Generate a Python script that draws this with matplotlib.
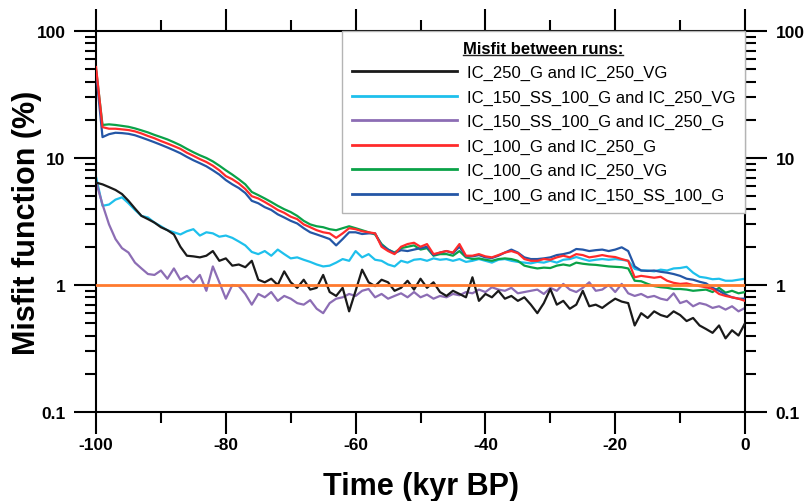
import numpy as np
import matplotlib
matplotlib.use("Agg")
import matplotlib.pyplot as plt
from matplotlib.ticker import FixedLocator, NullFormatter, FuncFormatter
from matplotlib.lines import Line2D

plt.rcParams['font.family'] = ['Liberation Sans', 'DejaVu Sans']
plt.rcParams['axes.unicode_minus'] = False

# time axis, one value per kyr from -100 to 0
time_kyr = np.arange(-100, 1)

misfit_250G_250VG = [
    6.4, 6.2, 5.9, 5.6, 5.2, 4.6, 4.0, 3.5, 3.3, 3.1,
    2.85, 2.7, 2.5, 2.0, 1.7, 1.68, 1.65, 1.7, 1.85, 1.55,
    1.62, 1.42, 1.45, 1.38, 1.55, 1.1, 1.05, 1.12, 1.0, 1.28,
    1.05, 0.95, 1.1, 0.92, 0.95, 1.2, 0.88, 0.82, 0.95, 0.62,
    0.9, 1.32, 1.05, 0.98, 1.1, 1.05, 0.9, 0.95, 1.08, 0.92,
    1.12, 0.95, 1.05, 0.88, 0.82, 0.9, 0.85, 0.8, 1.15, 0.75,
    0.85, 0.8, 0.9, 0.78, 0.82, 0.75, 0.8, 0.7, 0.6, 0.72,
    0.93, 0.7, 0.75, 0.65, 0.7, 0.9, 0.68, 0.7, 0.66, 0.72,
    0.78, 0.74, 0.72, 0.48, 0.6, 0.55, 0.62, 0.58, 0.56, 0.62,
    0.58, 0.52, 0.55, 0.48, 0.45, 0.42, 0.48, 0.38, 0.44, 0.4,
    0.5]

misfit_150SS_250VG = [
    7.1, 4.2, 4.3, 4.7, 4.9, 4.4, 3.9, 3.5, 3.4, 3.1,
    2.9, 2.7, 2.6, 2.5, 2.65, 2.75, 2.45, 2.6, 2.55, 2.4,
    2.45, 2.35, 2.2, 2.05, 1.82, 1.75, 1.85, 1.7, 1.9, 1.75,
    1.62, 1.65, 1.58, 1.52, 1.45, 1.4, 1.42, 1.5, 1.6, 1.55,
    1.85, 1.65, 1.75, 1.58, 1.55, 1.45, 1.4, 1.55, 1.5, 1.58,
    1.6, 1.55, 1.62, 1.58, 1.6, 1.55, 1.6, 1.52, 1.55, 1.6,
    1.55, 1.5, 1.58, 1.6, 1.55, 1.52, 1.5, 1.48, 1.52, 1.5,
    1.55, 1.5, 1.58, 1.6, 1.66, 1.6, 1.55, 1.58, 1.6, 1.58,
    1.6, 1.58, 1.55, 1.34, 1.3, 1.3, 1.28, 1.32, 1.3, 1.35,
    1.36, 1.39, 1.25, 1.16, 1.14, 1.11, 1.12, 1.08, 1.08, 1.1,
    1.12]

misfit_150SS_250G = [
    6.5, 4.3, 3.0, 2.3, 1.95, 1.8, 1.5, 1.35, 1.22, 1.2,
    1.3, 1.12, 1.35, 1.1, 1.18, 1.05, 1.2, 0.9, 1.4, 1.05,
    0.78, 1.0, 0.98, 0.85, 0.7, 0.85, 0.8, 0.88, 0.75, 0.82,
    0.78, 0.72, 0.7, 0.76, 0.65, 0.6, 0.72, 0.78, 0.8, 0.85,
    0.82, 0.9, 0.93, 0.8, 0.85, 0.78, 0.82, 0.86, 0.8, 0.88,
    0.8, 0.84, 0.78, 0.82, 0.8, 0.85, 0.83, 0.88, 0.86, 0.92,
    0.88, 0.96, 0.92, 0.9, 0.95, 0.86, 0.88, 0.9, 0.92, 0.85,
    0.95, 0.9, 1.02, 0.92, 0.88, 0.95, 1.05, 0.9, 0.92, 1.0,
    0.88, 1.02, 0.86, 0.82, 0.85, 0.8, 0.82, 0.78, 0.76, 0.86,
    0.72, 0.75, 0.68, 0.72, 0.7, 0.66, 0.68, 0.64, 0.68, 0.62,
    0.66]

misfit_100G_250G = [
    52, 17.5, 17.0, 17.0, 16.8, 16.6, 16.2, 15.6, 14.9, 14.3,
    13.6, 13.0, 12.4, 11.8, 11.0, 10.4, 9.8, 9.3, 8.7, 8.0,
    7.2, 6.8, 6.3, 5.7, 5.0, 4.8, 4.5, 4.2, 3.9, 3.7,
    3.45, 3.3, 3.0, 2.85, 2.7, 2.6, 2.55, 2.35, 2.55, 2.8,
    2.75, 2.65, 2.6, 2.55, 2.0, 1.85, 1.75, 2.0, 2.1, 2.15,
    2.0, 2.1, 1.75, 1.8, 1.85, 1.8, 2.1, 1.7, 1.7, 1.75,
    1.68, 1.65, 1.72, 1.8, 1.85, 1.78, 1.6, 1.55, 1.55, 1.6,
    1.58, 1.65, 1.7, 1.65, 1.75, 1.72, 1.65, 1.68, 1.72, 1.68,
    1.66, 1.6, 1.55, 1.15, 1.18, 1.16, 1.14, 1.16, 1.08, 1.04,
    1.02, 1.03, 1.0, 0.98, 0.96, 0.93, 0.85, 0.82, 0.8, 0.78,
    0.75]

misfit_100G_250VG = [
    50, 18.2, 18.4, 18.2, 17.9, 17.6, 17.1, 16.5, 15.9, 15.2,
    14.6, 14.0, 13.3, 12.6, 11.8, 11.1, 10.5, 10.0, 9.4, 8.7,
    8.0, 7.4, 6.8, 6.2, 5.4, 5.1, 4.8, 4.5, 4.2, 3.95,
    3.75, 3.5, 3.2, 3.0, 2.9, 2.85, 2.75, 2.7, 2.8, 2.9,
    2.8, 2.7, 2.6, 2.5, 2.1, 1.9, 1.8, 1.95, 2.0, 2.05,
    1.9, 1.95, 1.7, 1.75, 1.75, 1.7, 1.85, 1.65, 1.6, 1.62,
    1.58, 1.55, 1.6, 1.62, 1.6, 1.55, 1.42, 1.38, 1.35, 1.37,
    1.36, 1.42, 1.45, 1.42, 1.5, 1.47, 1.45, 1.44, 1.42, 1.4,
    1.39, 1.38, 1.35, 1.08, 1.07, 1.02, 0.98, 0.96, 0.95, 0.93,
    0.93, 0.92, 0.9, 0.91, 0.92, 0.88, 0.95, 0.87, 0.9, 0.86,
    0.88]

misfit_100G_150SS = [
    48, 14.6, 15.4, 15.8, 15.7, 15.5, 15.1, 14.5, 13.9, 13.3,
    12.7, 12.1, 11.5, 10.9, 10.2, 9.6, 9.1, 8.6, 8.0, 7.4,
    6.7, 6.2, 5.8, 5.3, 4.6, 4.4, 4.1, 3.9, 3.6, 3.4,
    3.2, 3.05, 2.8, 2.6, 2.5, 2.4, 2.3, 2.05, 2.3, 2.6,
    2.6, 2.52, 2.55, 2.55, 2.05, 1.9, 1.78, 1.88, 1.85, 1.9,
    1.95, 2.0, 1.72, 1.8, 1.85, 1.78, 2.0, 1.68, 1.68, 1.72,
    1.65, 1.63, 1.7, 1.8, 1.9, 1.8, 1.65, 1.6, 1.6, 1.62,
    1.65, 1.72, 1.75, 1.8, 1.92, 1.9, 1.85, 1.88, 1.9, 1.85,
    1.9, 1.98, 1.85, 1.4, 1.3, 1.29, 1.3, 1.27, 1.25, 1.22,
    1.18, 1.12, 1.1, 1.06, 1.03, 0.95, 0.9, 0.84, 0.8, 0.78,
    0.78]

series_labels = [
    "IC_250_G and IC_250_VG",
    "IC_150_SS_100_G and IC_250_VG",
    "IC_150_SS_100_G and IC_250_G",
    "IC_100_G and IC_250_G",
    "IC_100_G and IC_250_VG",
    "IC_100_G and IC_150_SS_100_G",
]
series_values = [misfit_250G_250VG, misfit_150SS_250VG, misfit_150SS_250G,
                 misfit_100G_250G, misfit_100G_250VG, misfit_100G_150SS]
series_colors = ["#1a1a1a", "#1ec0ec", "#8c6db4", "#ff2b2b", "#0aa248", "#2456a6"]
series_z = [3, 2, 2.5, 6, 4, 5]

threshold = 1.0

fig = plt.figure(figsize=(8.09, 5.02), dpi=100)
ax = fig.add_axes([0.1187, 0.1773, 0.8022, 0.759])

for vals, lab, col, z in zip(series_values, series_labels, series_colors, series_z):
    ax.plot(time_kyr, vals, color=col, lw=1.6, label=lab, zorder=z)

ax.axhline(threshold, color="#ff7a2e", lw=2.0, zorder=7)

ax.set_yscale("log")
ax.set_xlim(-100, 0)
ax.set_ylim(0.1, 100)

ax.xaxis.set_major_locator(FixedLocator([-100, -80, -60, -40, -20, 0]))
ax.xaxis.set_minor_locator(FixedLocator([-90, -70, -50, -30, -10]))
ax.yaxis.set_major_locator(FixedLocator([0.1, 1, 10, 100]))
minors = [m * 10.0 ** e for e in (-1, 0, 1) for m in range(2, 10)]
ax.yaxis.set_minor_locator(FixedLocator(minors))
ax.yaxis.set_minor_formatter(NullFormatter())
ax.yaxis.set_major_formatter(FuncFormatter(lambda v, p: "%g" % v))

ax.tick_params(which="both", direction="out", top=True, right=True,
               labelright=True, width=1.5)
ax.tick_params(which="major", length=16, labelsize=12.5)
ax.tick_params(axis="y", which="major", pad=6)
ax.tick_params(axis="x", which="major", pad=2)
ax.tick_params(which="minor", length=8)
for t in ax.xaxis.get_major_ticks():
    t.label1.set_fontweight("bold")
for t in ax.yaxis.get_major_ticks():
    t.label1.set_fontweight("bold")
    t.label2.set_fontweight("bold")
for sp in ax.spines.values():
    sp.set_linewidth(1.5)

ax.set_xlabel("Time (kyr BP)", fontsize=22, fontweight="bold", labelpad=14)
ax.set_ylabel("Misfit function (%)", fontsize=22, fontweight="bold")
ax.yaxis.set_label_coords(-0.083, 0.5)

leg = ax.legend(loc="upper right", bbox_to_anchor=(1.0, 1.0), borderaxespad=0,
                title="Misfit between runs:", fontsize=12, handlelength=6.3,
                handletextpad=0.6, borderpad=0.6, labelspacing=0.56,
                fancybox=False, framealpha=1)
leg.get_title().set_fontweight("bold")
leg.get_title().set_fontsize(12)
leg.get_frame().set_edgecolor("#b4b4b4")
leg.get_frame().set_linewidth(1.0)
leg.set_zorder(10)
for h in leg.get_lines():
    h.set_linewidth(2.0)

# underline the legend title
fig.canvas.draw()
bb = leg.get_title().get_window_extent()
inv = fig.transFigure.inverted()
(x0, y0), (x1, _) = inv.transform([(bb.x0, bb.y0 + 1), (bb.x1, bb.y0 + 1)])
fig.add_artist(Line2D([x0, x1], [y0, y0], color="#222222", lw=1.0,
                      transform=fig.transFigure, zorder=11))

fig.savefig("out.png", dpi=100)
